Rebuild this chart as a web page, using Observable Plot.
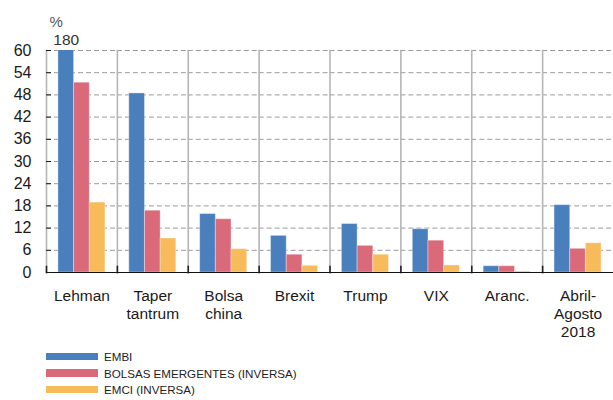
<!DOCTYPE html>
<html><head><meta charset="utf-8">
<script src="https://cdn.jsdelivr.net/npm/d3@7"></script>
<script src="https://cdn.jsdelivr.net/npm/@observablehq/plot@0.6"></script>
<style>
body{margin:0;background:#fff;font-family:"Liberation Sans",Arial,sans-serif;}
#chart svg{display:block}
#legend{margin-left:46px;padding-top:3px;font-family:"Liberation Sans",Arial,sans-serif;font-size:11.6px;color:#222}
.row{display:flex;align-items:center;height:16.7px}
.sw{width:52px;height:7.3px;margin-right:6px;flex:none}
.lb{white-space:nowrap}
</style></head><body><div id="chart"></div><div id="legend"></div>
<script>
const groups = ["Lehman","Taper\ntantrum","Bolsa\nchina","Brexit","Trump","VIX","Aranc.","Abril-\nAgosto\n2018"];
const seriesNames = ["EMBI","BOLSAS EMERGENTES (INVERSA)","EMCI (INVERSA)"];
const colors = ["#4a7fbe","#da6a79","#f8bb5c"];
const embi = [180,48.4,15.8,9.9,13.1,11.7,1.7,18.2];
const bolsas = [51.3,16.7,14.4,4.8,7.2,8.6,1.7,6.4];
const emci = [18.9,9.2,6.3,1.8,4.8,1.9,0.3,7.9];
const yTicks = [0,6,12,18,24,30,36,42,48,54,60];
const yMax = 60;

const seriesValues = [embi, bolsas, emci];
const data = [];
groups.forEach((g, i) => seriesNames.forEach((s, j) => data.push({group: g, series: s, value: seriesValues[j][i]})));
const over = data.filter(d => d.value > yMax);

const chart = Plot.plot({
  width: 613, height: 345,
  marginLeft: 46, marginRight: 0, marginTop: 50, marginBottom: 73,
  style: {fontFamily: "'Liberation Sans', Arial, sans-serif", color: "#1a1a1a", background: "#fff"},
  fx: {domain: groups, padding: 0, round: false, label: null, axis: null},
  x: {domain: seriesNames, paddingInner: 0, paddingOuter: 0.76, round: false, axis: null},
  y: {domain: [0, yMax]},
  color: {domain: seriesNames, range: colors},
  marks: [
    Plot.gridY(yTicks.filter(d => d > 0), {stroke: "#9a9a9a", strokeOpacity: 1, strokeDasharray: "5,3"}),
    Plot.frame({anchor: "left", stroke: "#b5b5b5", strokeWidth: 1.6}),
    Plot.frame({anchor: "left", stroke: "#222", strokeWidth: 1.6, insetTop: 216}),
    Plot.barY(data, {fx: "group", x: "series", y: "value", fill: "series", stroke: "#fff", strokeOpacity: 0.35, clip: true}),
    Plot.ruleY([0], {stroke: "#111", strokeWidth: 1.2}),
    Plot.axisY(yTicks, {tickSize: -5, tickPadding: 20, fontSize: 16, label: null, line: true}),
    Plot.axisFx({anchor: "bottom", tickSize: 0, tickPadding: 15, fontSize: 15.5, lineHeight: 1.19, label: null}),
    Plot.text(over, {fx: "group", x: "series", y: d => Math.min(d.value, yMax), text: d => String(d.value), dy: -10, fontSize: 15.5, fill: "#333"}),
    Plot.text(["%"], {fx: () => groups[0], frameAnchor: "top-left", dx: 3, dy: -34, fontSize: 15, fill: "#555"})
  ]
});
document.getElementById("chart").appendChild(chart);

const legend = document.getElementById("legend");
seriesNames.forEach((s, i) => {
  const row = document.createElement("div");
  row.className = "row";
  row.innerHTML = `<span class="sw" style="background:${colors[i]}"></span><span class="lb">${s}</span>`;
  legend.appendChild(row);
});
</script></body></html>
